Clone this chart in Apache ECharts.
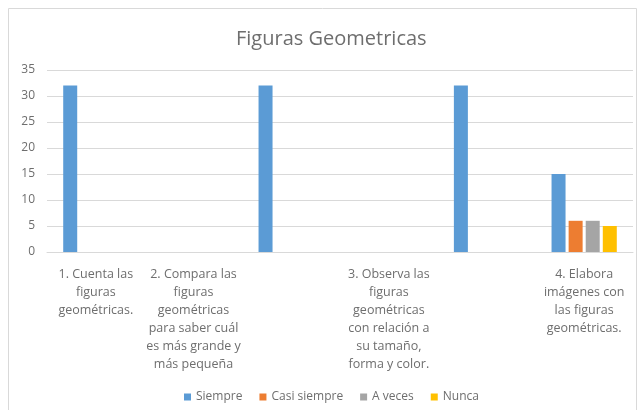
<!DOCTYPE html>
<html>
<head>
<meta charset="utf-8">
<script src="https://cdn.jsdelivr.net/npm/echarts@6/dist/echarts.min.js"></script>
<style>
  html, body { margin: 0; padding: 0; background: #fff; }
  #chart { width: 641px; height: 410px; }
</style>
</head>
<body>
<div id="chart"></div>
<script>
// Category labels (pre-wrapped), two slots are left blank
const categories = [
  '1. Cuenta las\nfiguras\ngeométricas.',
  '2. Compara las\nfiguras\ngeométricas\npara saber cuál\nes más grande y\nmás pequeña',
  '',
  '3. Observa las\nfiguras\ngeométricas\ncon relación a\nsu tamaño,\nforma y color.',
  '',
  '4. Elabora\nimágenes con\nlas figuras\ngeométricas.'
];
const seriesNames = ['Siempre', 'Casi siempre', 'A veces', 'Nunca'];
const siempre = [32, null, 32, null, 32, 15];
const casiSiempre = [null, null, null, null, null, 6];
const aVeces = [null, null, null, null, null, 6];
const nunca = [null, null, null, null, null, 5];
const yTicks = [0, 5, 10, 15, 20, 25, 30, 35];

const colors = ['#5B9BD5', '#ED7D31', '#A5A5A5', '#FFC000'];
const values = [siempre, casiSiempre, aVeces, nunca];
const textColor = '#6e6e6e';
const font = 'Open Sans';

const chart = echarts.init(document.getElementById('chart'), null, { renderer: 'canvas' });
chart.setOption({
  animation: false,
  color: colors,
  title: {
    text: 'Figuras Geometricas',
    left: 231,
    top: 24,
    textStyle: { fontFamily: font, fontSize: 20, fontWeight: 'normal', color: textColor }
  },
  graphic: [{
    type: 'rect',
    shape: { x: 8.5, y: 8.5, width: 628, height: 420 },
    style: { fill: 'none', stroke: '#d9d9d9', lineWidth: 1 },
    silent: true
  }],
  legend: {
    data: seriesNames,
    bottom: 2,
    left: 179,
    icon: 'rect',
    itemWidth: 7,
    itemHeight: 7,
    itemGap: 17,
    textStyle: { fontFamily: font, fontSize: 12, color: textColor }
  },
  grid: { left: 47, right: 8, top: 70, bottom: 158, containLabel: false },
  xAxis: {
    type: 'category',
    data: categories,
    axisTick: { show: false },
    axisLine: { show: true, lineStyle: { color: '#d9d9d9' } },
    axisLabel: {
      interval: 0,
      margin: 13,
      lineHeight: 18,
      fontFamily: font,
      fontSize: 12.5,
      color: textColor
    }
  },
  yAxis: {
    type: 'value',
    min: yTicks[0],
    max: yTicks[yTicks.length - 1],
    interval: yTicks[1] - yTicks[0],
    axisLine: { show: false },
    axisTick: { show: false },
    splitLine: { lineStyle: { color: '#d9d9d9' } },
    axisLabel: { fontFamily: font, fontSize: 12, color: textColor, margin: 12 }
  },
  series: seriesNames.map((name, i) => ({
    name: name,
    type: 'bar',
    data: values[i],
    barWidth: 14,
    barGap: '22%',
    itemStyle: { color: colors[i] }
  }))
});
</script>
</body>
</html>
